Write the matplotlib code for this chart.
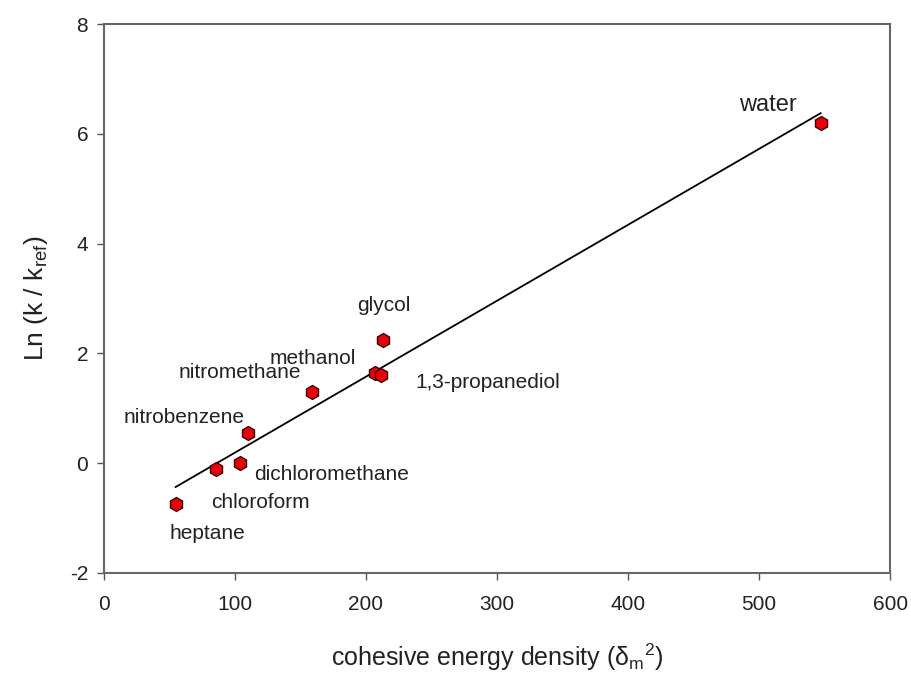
import matplotlib
matplotlib.use('Agg')
import matplotlib.pyplot as plt
import numpy as np

plt.rcParams['font.family'] = ['Liberation Sans', 'DejaVu Sans']
plt.rcParams['axes.unicode_minus'] = False

solvents = ['water', 'glycol', 'methanol', '1,3-propanediol', 'nitromethane',
            'nitrobenzene', 'dichloromethane', 'chloroform', 'heptane']
ced = [547, 213, 207, 212, 159, 110.5, 104, 86, 55]
lnk = [6.2, 2.25, 1.65, 1.6, 1.3, 0.55, 0.0, -0.1, -0.75]

# fitted line
slope = 0.01384
intercept = -1.195

# label offsets in pixels (dx, dy) relative to each point
offsets = {
    'water': (-53, 18),
    'glycol': (1, 34),
    'methanol': (-62, 14),
    '1,3-propanediol': (106, -7),
    'nitromethane': (-72, 19),
    'nitrobenzene': (-64, 16),
    'dichloromethane': (92, -11),
    'chloroform': (44, -34),
    'heptane': (32, -29),
}

fig = plt.figure(figsize=(9.12, 6.73), dpi=100)
ax = fig.add_axes([0.1135, 0.1486, 0.8625, 0.8157])

xl = np.array([min(ced), max(ced)])
ax.plot(xl, slope * xl + intercept, color='black', lw=1.3, zorder=2)
ax.plot(ced, lnk, ls='none', marker='h', markersize=10,
        markerfacecolor='#e8000b', markeredgecolor='#3a0000', markeredgewidth=1, zorder=3)

for name, x, y in zip(solvents, ced, lnk):
    fs = 17 if name == 'water' else 15
    ax.annotate(name, xy=(x, y), xytext=offsets[name], textcoords='offset pixels',
                ha='center', va='center', fontsize=fs, color='#222222')

ax.set_xlim(0, 600)
ax.set_ylim(-2, 8)
ax.set_xticks(range(0, 601, 100))
ax.set_yticks(range(-2, 9, 2))
ax.tick_params(axis='both', direction='out', length=5, width=1, labelsize=15,
               colors='#555555', labelcolor='#222222', top=False, right=False)
ax.tick_params(axis='x', pad=11)
ax.tick_params(axis='y', pad=6)
for s in ax.spines.values():
    s.set_color('#666666')
    s.set_linewidth(1.5)

ax.set_xlabel(r'cohesive energy density ($\mathregular{\delta_m}^{\mathregular{2}}$)',
              fontsize=18, labelpad=20, color='#222222')
ax.set_ylabel(r'Ln (k / k$\mathregular{_{ref}}$)', fontsize=19, labelpad=14, color='#222222')

fig.savefig('out.png', dpi=100)
